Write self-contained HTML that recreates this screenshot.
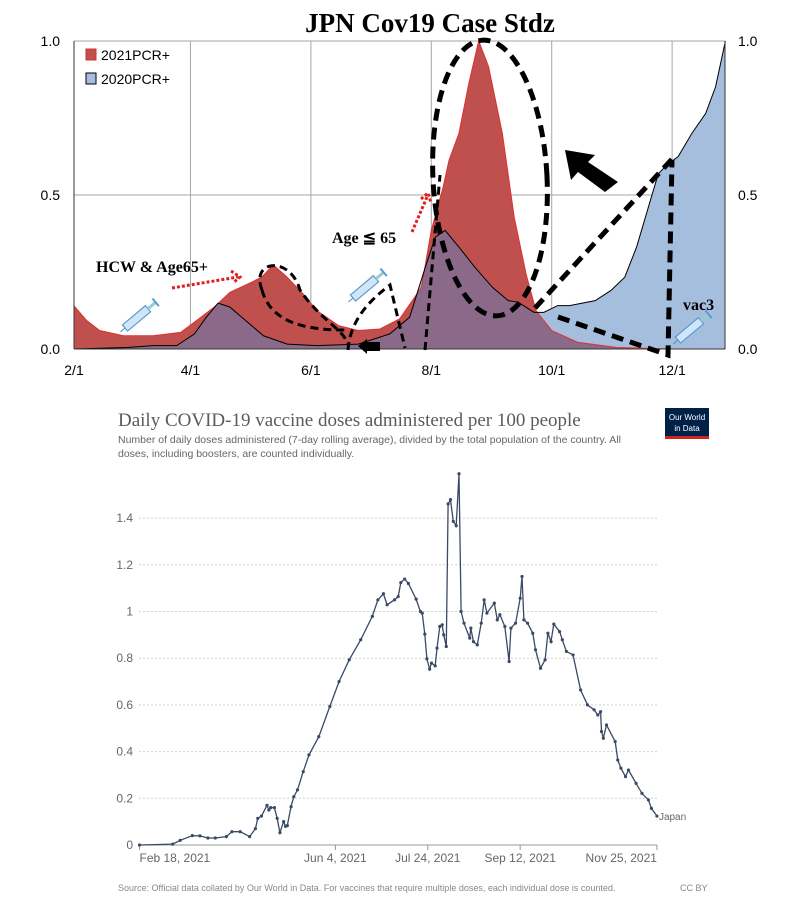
<!DOCTYPE html>
<html><head><meta charset="utf-8"><style>
body{margin:0;background:#fff;width:801px;height:903px;overflow:hidden;font-family:"Liberation Sans",sans-serif}
svg{position:absolute;left:0;top:0}
</style></head><body>
<svg id="s" width="801" height="903" viewBox="0 0 801 903">
<g id="topc"></g>
<g id="botc"></g>
</svg>
<script>
// ---- Top chart data (days from Feb 1, normalized values) ----
const redDays=[0,6.5,13,25,40,54,61,71,79,90,95,101,108,116,123,134,144,155,165,176,181,187,190,195,200,205,210,217,223,229,234,242,255,275,302,330];
const redVals=[.14,.092,.06,.043,.043,.054,.087,.136,.184,.217,.233,.273,.233,.179,.125,.076,.06,.065,.098,.2,.385,.526,.613,.7,.862,1.0,.917,.7,.428,.244,.125,.06,.022,.005,0,0];
const blueDays=[0,27,40,52,61,67,73,79,87,96,108,123,144,160,170,178,183,188,195,203,212,220,225,233,238,245,251,264,272,279,285,292,296,301,306,313,320,325,330];
const blueVals=[0,.005,.011,.011,.049,.103,.149,.136,.092,.043,.016,.011,.016,.049,.103,.266,.363,.385,.331,.266,.2,.157,.152,.119,.119,.141,.141,.157,.19,.233,.331,.483,.569,.602,.624,.7,.765,.851,1.0];
const topXTicks=["2/1","4/1","6/1","8/1","10/1","12/1"];
const topXTickDays=[0,59,120,181,242,303];
const topYTicks=[0,0.5,1.0];
// ---- Bottom chart data (days from Feb 18 2021, doses per 100) ----
const vDays=[0,18,22,28.6,32.7,37,41,47,50,54.5,59.6,62.7,64,66,69,70,71,73,74.5,76,78,79,80,82,83.5,85.5,88.6,91.7,97,103,108,113.5,119.7,126,129,132,134,138,140,141.4,143.5,145.5,149.7,152,153,154.4,155.5,157,158,160,161,162.5,163.8,164.6,166,167,168.3,169.8,171.4,172.9,174,175.6,178.7,179.3,180.7,182.8,184.9,186.5,188,192,193.6,195,197.7,200,201,203.5,206,207,208,210,212.8,214.3,217,219.5,221,222.7,224.2,227.3,228.8,231,234.6,238.7,242.4,246,248,249.5,250,251,252.7,257.4,258.8,260.5,263,264.6,268.7,271.9,275.4,277,280];
const vVals=[0,.004,.02,.04,.039,.03,.03,.036,.057,.057,.036,.07,.114,.124,.17,.15,.16,.16,.114,.053,.1,.08,.083,.164,.207,.236,.314,.386,.464,.593,.7,.793,.879,.979,1.05,1.076,1.029,1.05,1.064,1.124,1.139,1.12,1.053,1.0,.993,.903,.797,.753,.779,.767,.843,.936,.943,.9,.85,1.461,1.479,1.386,1.367,1.59,1.0,.95,.886,.929,.871,.857,.95,1.05,.993,1.036,.964,.986,.936,.786,.929,.95,1.057,1.15,.964,.95,.907,.836,.757,.793,.907,.871,.946,.914,.879,.829,.814,.664,.6,.579,.557,.571,.486,.457,.514,.443,.364,.329,.293,.321,.264,.221,.193,.157,.124];
const botYTicks=[0,0.2,0.4,0.6,0.8,1,1.2,1.4];
const botXTicks=["Feb 18, 2021","Jun 4, 2021","Jul 24, 2021","Sep 12, 2021","Nov 25, 2021"];
const botXTickDays=[0,106,156,206,280];

const NS="http://www.w3.org/2000/svg";
function mk(p,t,a,txt){const e=document.createElementNS(NS,t);for(const k in a)e.setAttribute(k,a[k]);if(txt!==undefined)e.textContent=txt;p.appendChild(e);return e;}
const tg=document.getElementById('topc');

const tx=d=>74+d*1.974, ty=v=>349-v*308;
function interp(ds,vs,d){if(d<=ds[0])return vs[0];for(let i=1;i<ds.length;i++){if(d<=ds[i]){const t=(d-ds[i-1])/(ds[i]-ds[i-1]);return vs[i-1]+t*(vs[i]-vs[i-1]);}}return vs[vs.length-1];}
function area(ds,vs){let s=`M${tx(ds[0])},${ty(0)}`;ds.forEach((d,i)=>s+=` L${tx(d)},${ty(vs[i])}`);return s+` L${tx(ds[ds.length-1])},${ty(0)} Z`;}
function line(ds,vs){return ds.map((d,i)=>(i?'L':'M')+tx(d)+','+ty(vs[i])).join(' ');}

topYTicks.forEach(v=>{const l=mk(tg,'line',{x1:74,x2:725,y1:ty(v),y2:ty(v),stroke:'#a6a6a6','stroke-width':1});

});
topXTickDays.forEach(d=>{const l=mk(tg,'line',{x1:tx(d),x2:tx(d),y1:ty(1),y2:ty(0),stroke:'#a6a6a6','stroke-width':1});

});
let a=mk(tg,'path',{d:area(blueDays,blueVals),fill:'#a5bedd'});


a=mk(tg,'path',{d:area(redDays,redVals),fill:'#c0504d'});


const gd=[];for(let d=0;d<=330;d+=1)gd.push(d);
const mv=gd.map(d=>Math.min(interp(redDays,redVals,d),interp(blueDays,blueVals,d)));
a=mk(tg,'path',{d:area(gd,mv),fill:'#8a6a88'});


a=mk(tg,'path',{d:line(redDays,redVals),fill:'none',stroke:'#e03030','stroke-width':1});


a=mk(tg,'path',{d:line(blueDays,blueVals),fill:'none',stroke:'#000','stroke-width':1});


a=mk(tg,'line',{x1:74,x2:74,y1:ty(1),y2:ty(0),stroke:'#333'});


a=mk(tg,'line',{x1:725,x2:725,y1:ty(1),y2:ty(0),stroke:'#333'});


a=mk(tg,'line',{x1:74,x2:725,y1:ty(0),y2:ty(0),stroke:'#333'});


topYTicks.forEach(v=>{
 let t=mk(tg,'text',{x:60,y:ty(v)+5,'text-anchor':'end','font-size':14,fill:'#000'},v.toFixed(1));
 
 
 t=mk(tg,'text',{x:738,y:ty(v)+5,'font-size':14,fill:'#000'},v.toFixed(1));
 
 });
topXTicks.forEach((s,i)=>{const t=mk(tg,'text',{x:tx(topXTickDays[i]),y:375,'text-anchor':'middle','font-size':14,fill:'#000'},s);

});

// ---- bottom chart ----
const bg=document.getElementById('botc');
const bx=d=>139.5+d*1.848, by=v=>845-v*233.5;
botYTicks.forEach(v=>{
 if(v>0){const l=mk(bg,'line',{x1:139,x2:657,y1:by(v),y2:by(v),stroke:'#d0d0d0','stroke-dasharray':'2,2'});
 
 }
 const tt=mk(bg,'text',{x:133,y:by(v)+4,'text-anchor':'end','font-size':12,fill:'#666'},String(v));
 
 
});
let ax=mk(bg,'line',{x1:139,x2:657,y1:845,y2:845,stroke:'#999'});


botXTicks.forEach((s,i)=>{const x=bx(botXTickDays[i]);
 const l=mk(bg,'line',{x1:x,x2:x,y1:845,y2:850,stroke:'#999'});
 
 
 const anchor=i==0?'start':(i==botXTicks.length-1?'end':'middle');
 const tt=mk(bg,'text',{x:x,y:862,'text-anchor':anchor,'font-size':12,fill:'#666'},s);
 
 });
const dd=vDays.map((d,i)=>(i?'L':'M')+bx(d).toFixed(1)+','+by(vVals[i]).toFixed(1)).join(' ');
const ln=mk(bg,'path',{d:dd,fill:'none',stroke:'#3a4a64','stroke-width':1.3});


vDays.forEach((d,i)=>{const c=mk(bg,'circle',{cx:bx(d),cy:by(vVals[i]),r:1.6,fill:'#3a4a64'});

});
let jl=mk(bg,'text',{x:bx(vDays[vDays.length-1])+2,y:by(vVals[vVals.length-1])+4,'font-size':10,fill:'#666'},'Japan');


</script>
<script>
(function(){
const tg=document.getElementById('topc');
function mk(p,t,a,txt){const e=document.createElementNS("http://www.w3.org/2000/svg",t);for(const k in a)e.setAttribute(k,a[k]);if(txt!==undefined)e.textContent=txt;p.appendChild(e);return e;}
let t=mk(tg,'text',{x:430,y:32,'text-anchor':'middle','font-family':'Liberation Serif,serif','font-weight':'bold','font-size':27,fill:'#000'},'JPN Cov19 Case Stdz');


let r=mk(tg,'rect',{x:86,y:49,width:10,height:11,fill:'#c0504d',stroke:'#d03030'});


t=mk(tg,'text',{x:101,y:60,'font-size':14},'2021PCR+');


r=mk(tg,'rect',{x:86,y:73,width:10,height:11,fill:'#a5bedd',stroke:'#000'});


t=mk(tg,'text',{x:101,y:84,'font-size':14},'2020PCR+');


const bs={'font-family':'Liberation Serif,serif','font-weight':'bold','font-size':16,fill:'#000'};
t=mk(tg,'text',Object.assign({x:96,y:272},bs),'HCW & Age65+');


t=mk(tg,'text',Object.assign({x:332,y:243},bs),'Age ≦ 65');


t=mk(tg,'text',Object.assign({x:683,y:310},bs),'vac3');


let p=mk(tg,'path',{d:'M172,288 L238,277 M231,271 L240,277 L233,283 M412,232 L427,197 M421,199 L428,193 L431,203',fill:'none',stroke:'#e02020','stroke-width':3,'stroke-dasharray':'3,2'});


[[125,328],[353,298],[678,340]].forEach(([x,y])=>{
 const g=mk(tg,'g',{transform:`translate(${x},${y}) rotate(-40)`});
 
 
 mk(g,'line',{x1:-6,y1:0,x2:0,y2:0,stroke:'#5a8ab8','stroke-width':1});
 mk(g,'rect',{x:0,y:-4,width:30,height:8,fill:'#cfe6f8',stroke:'#5a9ad0','stroke-width':1.2});
 mk(g,'rect',{x:30,y:-1.5,width:10,height:3,fill:'#9cc'});
 mk(g,'line',{x1:40,y1:-5,x2:40,y2:5,stroke:'#5a9ad0','stroke-width':2});
});
const ds={fill:'none',stroke:'#000','stroke-dasharray':'12,7'};
p=mk(tg,'ellipse',Object.assign({cx:490,cy:178,rx:57,ry:138,'stroke-width':5,transform:'rotate(-3 490 178)'},ds));


p=mk(tg,'path',{d:'M262,290 C250,260 290,255 300,290 C320,320 345,330 348,345 M262,290 C270,320 300,330 345,330','stroke-width':3,'stroke-dasharray':'8,5',fill:'none',stroke:'#000'});


p=mk(tg,'path',{d:'M348,350 C350,320 370,300 390,285 L405,348 M425,350 L440,175','stroke-width':3,'stroke-dasharray':'8,5',fill:'none',stroke:'#000'});


p=mk(tg,'path',Object.assign({d:'M535,308 L673,158 M558,317 L668,355 L672,160','stroke-width':5},ds));


p=mk(tg,'path',{d:'M565,150 L595,155 L588,162 L618,182 L605,192 L578,172 L571,180 Z',fill:'#000'});


p=mk(tg,'path',{d:'M358,346 L367,339 L367,342 L380,342 L380,351 L367,351 L367,354 Z',fill:'#000'});



const bg=document.getElementById('botc');
t=mk(bg,'text',{x:118,y:426,'font-size':19,fill:'#5b5b5b','font-family':'Liberation Serif,serif'},'Daily COVID-19 vaccine doses administered per 100 people');


t=mk(bg,'text',{x:118,y:443,'font-size':10.5,fill:'#666'},'Number of daily doses administered (7-day rolling average), divided by the total population of the country. All');


t=mk(bg,'text',{x:118,y:457,'font-size':10.5,fill:'#666'},'doses, including boosters, are counted individually.');


const g=mk(bg,'g',{});


mk(g,'rect',{x:665,y:408,width:44,height:30,fill:'#002147'});
mk(g,'rect',{x:665,y:436,width:44,height:3,fill:'#ce261e'});
mk(g,'text',{x:687,y:420,'text-anchor':'middle','font-size':8,fill:'#fff'},'Our World');
mk(g,'text',{x:687,y:431,'text-anchor':'middle','font-size':8,fill:'#fff'},'in Data');
t=mk(bg,'text',{x:118,y:891,'font-size':9,fill:'#888'},'Source: Official data collated by Our World in Data. For vaccines that require multiple doses, each individual dose is counted.');


t=mk(bg,'text',{x:680,y:891,'font-size':9,fill:'#888'},'CC BY');


})();
</script>
</body></html>
